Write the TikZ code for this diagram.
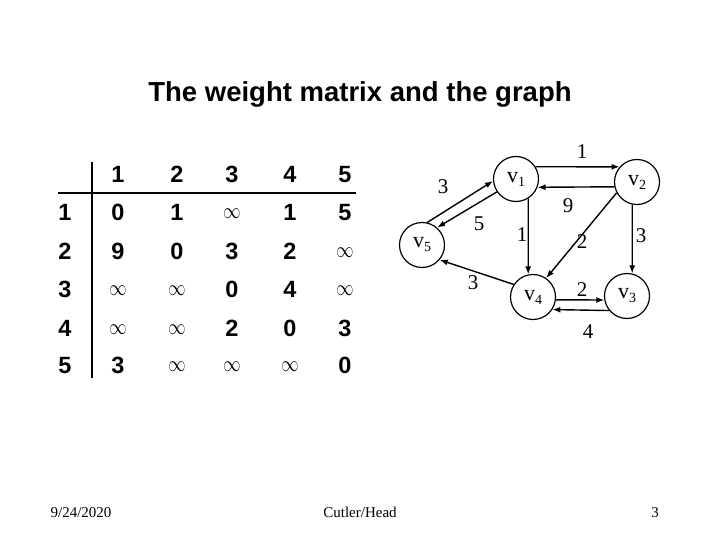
\documentclass[tikz,border=0pt]{standalone}
\usepackage{fontspec}
\setmainfont{Liberation Serif}
\setsansfont{Liberation Sans}
\usetikzlibrary{arrows.meta}
\newcommand\inff{\raisebox{2pt}{\fontsize{19}{19}\selectfont\scalebox{1}[1.3]{$\infty$}}}
\newcommand\vv[1]{v\raisebox{-4pt}{\fontsize{14}{14}\selectfont #1}}
\tikzset{
  vnode/.style={circle, draw, line width=1.2pt, minimum size=45pt, inner sep=0pt, font=\fontsize{22}{22}\selectfont},
  edge/.style={line width=1.4pt, -{Latex[length=8pt,width=6pt]}},
  wlab/.style={font=\fontsize{21}{21}\selectfont, inner sep=0pt},
  mnum/.style={font=\sffamily\bfseries\fontsize{23.5}{23.5}\selectfont, inner sep=0pt, anchor=base},
  foot/.style={font=\fontsize{15}{15}\selectfont, inner sep=0pt, anchor=base}
}
\begin{document}
\begin{tikzpicture}[x=1pt,y=-1pt]
\useasboundingbox (0,0) rectangle (720,540);
% title
\node[font=\sffamily\bfseries\fontsize{27.5}{27.5}\selectfont, inner sep=0pt] (title) at (360,94) {The weight matrix and the graph};
% matrix
\draw[line width=1.3pt] (92,162) -- (92,378);
\draw[line width=1.3pt] (58,193) -- (356,193);
\foreach \c/\x in {1/118,2/177,3/232,4/290,5/345}
  \node[mnum] (h\c) at (\x,182.5) {\c};
\foreach \r/\y/\a/\b/\cc/\d/\e in {1/220.5/0/1/\inff/1/5, 2/259.5/9/0/3/2/\inff, 3/297.5/\inff/\inff/0/4/\inff, 4/336.5/\inff/\inff/2/0/3, 5/373.5/3/\inff/\inff/\inff/0}{
  \node[mnum] (r\r) at (65,\y) {\r};
  \node[mnum] (m\r-1) at (118,\y) {\a};
  \node[mnum] (m\r-2) at (177,\y) {\b};
  \node[mnum] (m\r-3) at (232,\y) {\cc};
  \node[mnum] (m\r-4) at (290,\y) {\d};
  \node[mnum] (m\r-5) at (345,\y) {\e};
}
% graph
\node[vnode] (v1) at (516,179) {\vv{1}};
\node[vnode] (v2) at (637,182) {\vv{2}};
\node[vnode] (v3) at (627,296) {\vv{3}};
\node[vnode] (v4) at (533,297) {\vv{4}};
\node[vnode] (v5) at (422,245) {\vv{5}};
\draw[edge] (v1.32) -- (v2.139);
\draw[edge] (v2.192) -- (v1.-21);
\draw[edge] (v5.77) -- (v1.185);
\draw[edge] (v1.214) -- (v5.49);
\draw[edge] (v1.-58) -- (v4.102);
\draw[edge] (v2.208) -- (v4.55);
\draw[edge] (v2.258) -- (v3.77);
\draw[edge] (v4.-7) -- (v3.190);
\draw[edge] (v3.219) -- (v4.-33);
\draw[edge] (v4.147) -- (v5.-40);
\node[wlab] (l12) at (582,152) {1};
\node[wlab] (l21) at (568,206) {9};
\node[wlab] (l51) at (443,187) {3};
\node[wlab] (l15) at (479,224) {5};
\node[wlab] (l14) at (522,235) {1};
\node[wlab] (l24) at (582,242) {2};
\node[wlab] (l23) at (641,236) {3};
\node[wlab] (l43) at (582,290) {2};
\node[wlab] (l34) at (588,332) {4};
\node[wlab] (l45) at (473,283) {3};
% footer
\node[foot] (date) at (81,517) {9/24/2020};
\node[foot] (auth) at (360,517) {Cutler/Head};
\node[foot] (page) at (655,517) {3};
\end{tikzpicture}
\end{document}
